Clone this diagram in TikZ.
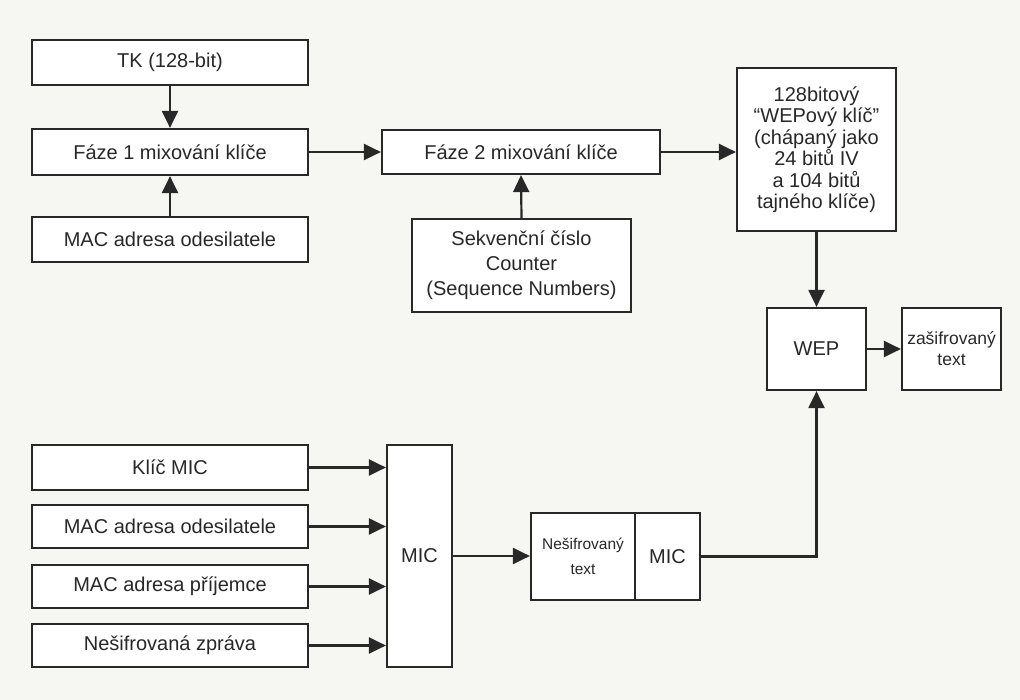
\documentclass[tikz,border=0pt]{standalone}
\usepackage{fontspec}
\setmainfont{Liberation Sans}
\usetikzlibrary{arrows.meta}
\definecolor{bg}{RGB}{246,246,243}
\definecolor{ink}{RGB}{40,40,40}
\begin{document}
\begin{tikzpicture}[x=1pt,y=-1pt,
  box/.style={draw=ink, line width=2.2pt, fill=white, inner sep=0pt, align=center,
    font=\fontsize{20}{21.5}\selectfont, text=ink},
  wide/.style={box, minimum width=276pt, minimum height=45pt},
  arr/.style={draw=ink, line width=2.2pt, -{Triangle[length=17pt,width=16pt]}}]
\fill[bg] (0,0) rectangle (1020,700);
\useasboundingbox (0,0) rectangle (1020,700);
% top part
\node[wide] (tk) at (170,62.5) {TK (128-bit)};
\node[wide, minimum height=46pt] (f1) at (170,152) {Fáze 1 mixování klíče};
\node[wide] (mac1) at (170,239.5) {MAC adresa odesilatele};
\node[box, minimum width=278pt, minimum height=44pt] (f2) at (521,152) {Fáze 2 mixování klíče};
\node[box, minimum width=219pt, minimum height=93pt, font=\fontsize{20}{25}\selectfont] (seq) at (521.5,265.5) {Sekvenční číslo\\Counter\\(Sequence Numbers)};
\node[box, minimum width=159pt, minimum height=163pt] (k128) at (816.5,149.5) {128bitový\\“WEPový klíč”\\(chápaný jako\\24 bitů IV\\a 104 bitů\\tajného klíče)};
\node[box, minimum width=99pt, minimum height=82pt] (wep) at (816.5,349) {WEP};
\node[box, minimum width=99pt, minimum height=82pt, font=\fontsize{17.5}{21}\selectfont] (zt) at (951.5,349) {zašifrovaný\\text};
% bottom part
\node[wide] (kmic) at (170,467.5) {Klíč MIC};
\node[wide, minimum height=43pt] (mac2) at (170,526.5) {MAC adresa odesilatele};
\node[wide, minimum height=43pt] (macp) at (170,586.5) {MAC adresa příjemce};
\node[wide, minimum height=43pt] (nz) at (170,645.5) {Nešifrovaná zpráva};
\node[box, minimum width=65pt, minimum height=222pt] (mic) at (419.5,556) {MIC};
\node[box, minimum width=104pt, minimum height=87pt, font=\fontsize{15.5}{25}\selectfont] (nt) at (583,556.5) {Nešifrovaný\\text};
\node[box, minimum width=65pt, minimum height=87pt] (micb) at (667.5,556.5) {MIC};
% connectors
\draw[arr] (tk.south) -- (f1.north);
\draw[arr] (mac1.north) -- (f1.south);
\draw[arr] (f1.east) -- (f2.west);
\draw[arr] (seq.north) -- (f2.south);
\draw[arr] (f2.east) -- (f2.east -| k128.west);
\draw[arr] (k128.south) -- (wep.north);
\draw[arr] (wep.east) -- (zt.west);
\draw[arr] (kmic.east) -- (kmic.east -| mic.west);
\draw[arr] (mac2.east) -- (mac2.east -| mic.west);
\draw[arr] (macp.east) -- (macp.east -| mic.west);
\draw[arr] (nz.east) -- (nz.east -| mic.west);
\draw[arr] (mic.east) -- (mic.east -| nt.west);
\draw[arr] (micb.east) -| (wep.south);
\end{tikzpicture}
\end{document}
